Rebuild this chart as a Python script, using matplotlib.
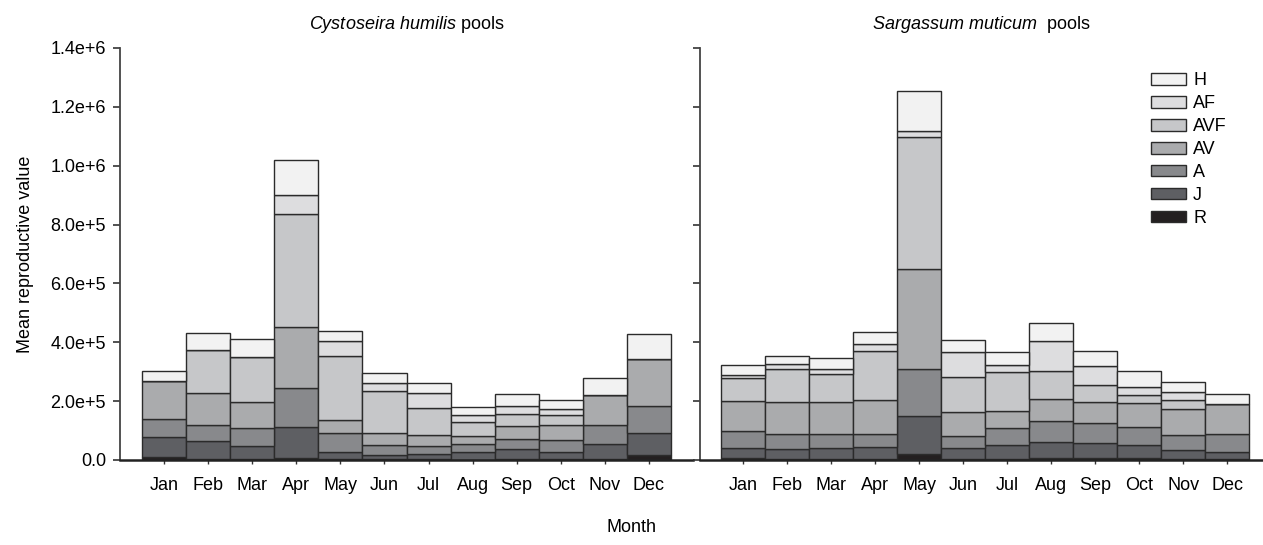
import matplotlib
matplotlib.use("Agg")
import matplotlib.pyplot as plt
import numpy as np
from matplotlib.patches import Patch

plt.rcParams['font.family'] = ['Liberation Sans', 'DejaVu Sans']
plt.rcParams['mathtext.fontset'] = 'custom'
plt.rcParams['mathtext.rm'] = 'Liberation Sans'
plt.rcParams['mathtext.it'] = 'Liberation Sans:italic'

months = ["Jan", "Feb", "Mar", "Apr", "May", "Jun",
          "Jul", "Aug", "Sep", "Oct", "Nov", "Dec"]
stages = ["R", "J", "A", "AV", "AVF", "AF", "H"]
stage_colors = ["#231f20", "#5e5f63", "#88898c", "#aaabad",
                "#c6c7c9", "#dddddf", "#f2f2f2"]

# Cystoseira humilis pools (mean reproductive value per stage)
humilis_R = [9e3, 3e3, 3e3, 8e3, 2e3, 2e3, 2e3, 1e3, 2e3, 2e3, 5e3, 16e3]
humilis_J = [68e3, 60e3, 46e3, 103e3, 24e3, 15e3, 20e3, 25e3, 34e3, 26e3, 49e3, 75e3]
humilis_A = [64e3, 55e3, 60e3, 134e3, 65e3, 33e3, 27e3, 27e3, 36e3, 41e3, 65e3, 92e3]
humilis_AV = [128e3, 110e3, 87e3, 207e3, 45e3, 42e3, 37e3, 27e3, 44e3, 49e3, 103e3, 161e3]
humilis_AVF = [0, 145e3, 154e3, 385e3, 216e3, 141e3, 92e3, 48e3, 42e3, 36e3, 0, 0]
humilis_AF = [0, 0, 0, 62e3, 51e3, 27e3, 50e3, 24e3, 26e3, 20e3, 0, 0]
humilis_H = [34e3, 59e3, 62e3, 122e3, 36e3, 34e3, 32e3, 29e3, 40e3, 29e3, 58e3, 83e3]

# Sargassum muticum pools
muticum_R = [6e3, 5e3, 5e3, 5e3, 19e3, 5e3, 5e3, 6e3, 6e3, 6e3, 5e3, 5e3]
muticum_J = [36e3, 33e3, 37e3, 40e3, 132e3, 35e3, 45e3, 54e3, 51e3, 44e3, 28e3, 23e3]
muticum_A = [57e3, 51e3, 45e3, 44e3, 157e3, 41e3, 58e3, 72e3, 68e3, 62e3, 52e3, 60e3]
muticum_AV = [102e3, 109e3, 110e3, 114e3, 342e3, 81e3, 59e3, 74e3, 72e3, 80e3, 87e3, 103e3]
muticum_AVF = [77e3, 111e3, 95e3, 168e3, 448e3, 120e3, 132e3, 95e3, 59e3, 28e3, 31e3, 0]
muticum_AF = [11e3, 17e3, 16e3, 23e3, 20e3, 85e3, 24e3, 103e3, 62e3, 29e3, 29e3, 0]
muticum_H = [33e3, 27e3, 38e3, 40e3, 137e3, 40e3, 44e3, 63e3, 51e3, 54e3, 34e3, 34e3]

ytick_values = [0, 2e5, 4e5, 6e5, 8e5, 1e6, 1.2e6, 1.4e6]
ytick_labels = ["0.0", "2.0e+5", "4.0e+5", "6.0e+5", "8.0e+5",
                "1.0e+6", "1.2e+6", "1.4e+6"]

humilis = [humilis_R, humilis_J, humilis_A, humilis_AV,
           humilis_AVF, humilis_AF, humilis_H]
muticum = [muticum_R, muticum_J, muticum_A, muticum_AV,
           muticum_AVF, muticum_AF, muticum_H]

W, H = 1263, 545
fig = plt.figure(figsize=(W / 100, H / 100), dpi=100)

ax1 = fig.add_axes([120 / W, (H - 460) / H, (693 - 120) / W, 412 / H])
ax2 = fig.add_axes([700 / W, (H - 460) / H, (1262 - 700) / W, 412 / H])

x = np.arange(1, 13)
FS = 13


def draw_panel(ax, layers, xlim):
    bottom = np.zeros(12)
    for vals, col in zip(layers, stage_colors):
        v = np.array(vals, dtype=float)
        ax.bar(x, v, width=1.0, bottom=bottom, color=col,
               edgecolor="#2b2b2b", linewidth=1.0, zorder=2)
        bottom += v
    ax.set_xlim(*xlim)
    ax.set_ylim(0, 1.4e6)
    ax.set_xticks(x)
    ax.set_xticklabels(months, fontsize=FS)
    ax.set_yticks(ytick_values)
    for s in ("top", "right"):
        ax.spines[s].set_visible(False)
    ax.spines["left"].set_color("#444444")
    ax.spines["left"].set_linewidth(1.3)
    ax.spines["bottom"].set_color("#222222")
    ax.spines["bottom"].set_linewidth(1.8)
    ax.tick_params(axis="y", direction="out", length=5, width=1.2,
                   color="#333333", labelsize=FS, pad=5)
    ax.tick_params(axis="x", direction="out", length=3, width=1.0,
                   color="#333333", labelsize=FS, pad=9)


draw_panel(ax1, humilis, (0.0, 13.0))
draw_panel(ax2, muticum, (0.014, 12.79))

ax1.set_yticklabels(ytick_labels, fontsize=FS)
ax2.set_yticklabels([])

ax1.set_ylabel("Mean reproductive value", fontsize=FS, labelpad=12)

ax1.set_title(r"$\it{Cystoseira\ humilis}$ pools", fontsize=FS, pad=14)
ax2.set_title(r"$\it{Sargassum\ muticum}$  pools", fontsize=FS, pad=14)

fig.text(631 / W, (H - 527) / H, "Month", ha="center", va="center",
         fontsize=FS)

handles = [Patch(facecolor=c, edgecolor="#2b2b2b", linewidth=1.0, label=s)
           for s, c in zip(stages, stage_colors)]
ax2.legend(handles=handles[::-1], loc="upper right",
           bbox_to_anchor=(1 - 28 / 562, 1 - 17 / 412), frameon=False,
           fontsize=FS, handlelength=1.98, handleheight=0.61,
           handletextpad=0.38, labelspacing=0.33, borderaxespad=0.0)

fig.savefig("out.png", dpi=100)
